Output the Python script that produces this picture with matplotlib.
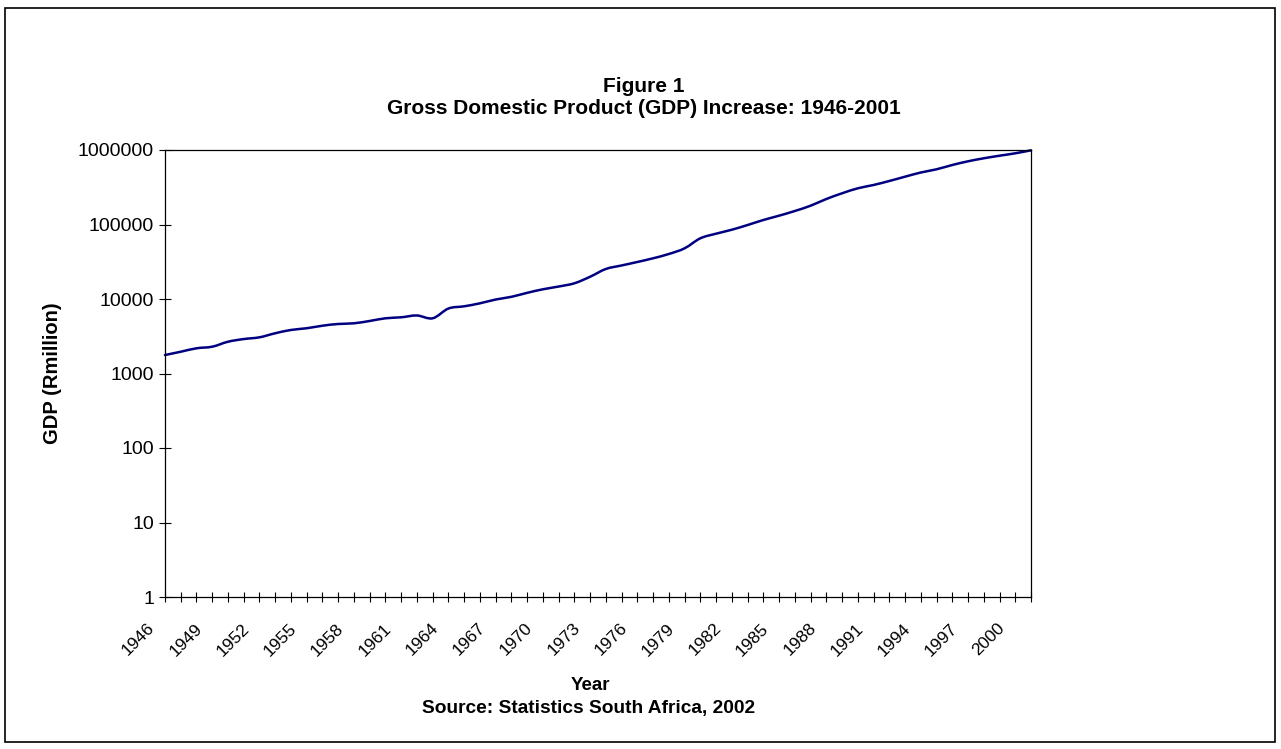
import matplotlib.pyplot as plt
import matplotlib.patches as mpatches
import matplotlib.transforms as mtransforms
from matplotlib.path import Path
import numpy as np

plt.rcParams['font.family'] = ['Liberation Sans', 'DejaVu Sans']

# GDP at current prices, R million
years = list(range(1946, 2002))
gdp = [
    1770, 1960, 2180, 2290, 2670, 2900, 3060, 3470, 3840, 4050,
    4380, 4620, 4720, 5070, 5510, 5680, 6010, 5510, 7450, 7980,
    8750, 9840, 10700, 12100, 13500, 14700, 16250, 19900, 25300, 28200,
    31400, 35200, 40200, 47900, 65300, 75300, 85100, 98400, 114900, 131300,
    151800, 178700, 219900, 262300, 306100, 339000, 383700, 438300, 498800, 550800,
    629000, 705000, 774000, 838000, 903000, 990000,
]
y_ticks = [1, 10, 100, 1000, 10000, 100000, 1000000]
label_years = years[::3]


def smooth_path(xs, ys):
    # Bezier segments through the points (Catmull-Rom tangents, in log space)
    x = np.asarray(xs, float)
    ly = np.log10(np.asarray(ys, float))
    verts = [(x[0], ys[0])]
    codes = [Path.MOVETO]
    n = len(x)
    for i in range(n - 1):
        x0, y0 = x[max(i - 1, 0)], ly[max(i - 1, 0)]
        x1, y1 = x[i], ly[i]
        x2, y2 = x[i + 1], ly[i + 1]
        x3, y3 = x[min(i + 2, n - 1)], ly[min(i + 2, n - 1)]
        c1 = (x1 + (x2 - x0) / 6, y1 + (y2 - y0) / 6)
        c2 = (x2 - (x3 - x1) / 6, y2 - (y3 - y1) / 6)
        verts += [(c1[0], 10 ** c1[1]), (c2[0], 10 ** c2[1]), (x2, 10 ** y2)]
        codes += [Path.CURVE4] * 3
    return Path(verts, codes)


fig = plt.figure(figsize=(12.81, 7.49), dpi=100)
ax = fig.add_axes([165 / 1281, 1 - 597 / 749, 866 / 1281, 447 / 749])

ax.set_yscale('log')
ax.set_ylim(1, 1000000)
ax.set_xlim(years[0], years[-1])

line = mpatches.PathPatch(smooth_path(years, gdp), facecolor='none',
                          edgecolor='#000080', linewidth=1.8, capstyle='round',
                          joinstyle='round', clip_on=False)
ax.add_patch(line)

ax.set_yticks(y_ticks)
ax.set_yticklabels([str(v) for v in y_ticks])
ax.yaxis.set_minor_locator(plt.NullLocator())

ax.set_xticks(years, minor=True)
ax.set_xticks(label_years)
ax.set_xticklabels([str(y) for y in label_years], rotation=45,
                   ha='right', rotation_mode='anchor')

ax.tick_params(axis='both', which='both', direction='inout', color='black',
               width=0.8)
ax.tick_params(axis='x', which='both', length=7.5, pad=6, labelsize=12.5)
ax.tick_params(axis='y', length=8, pad=4, labelsize=14)

shift = mtransforms.ScaledTranslation(-18 / 100, -10 / 100, fig.dpi_scale_trans)
for lab in ax.get_xticklabels():
    lab.set_transform(lab.get_transform() + shift)

for s in ax.spines.values():
    s.set_linewidth(0.9)
    s.set_color('black')

fig.text(52 / 1281, 1 - 373 / 749, 'GDP (Rmillion)', rotation=90,
         ha='center', va='center', fontsize=14.5, fontweight='bold')

fig.text(644 / 1281, 1 - 86 / 749, 'Figure 1', ha='center', va='center',
         fontsize=15, fontweight='bold')
fig.text(644 / 1281, 1 - 109 / 749, 'Gross Domestic Product (GDP) Increase: 1946-2001',
         ha='center', va='center', fontsize=15, fontweight='bold')
fig.text(590 / 1281, 1 - 686 / 749, 'Year', ha='center', va='center',
         fontsize=13.5, fontweight='bold')
fig.text(589 / 1281, 1 - 708 / 749, 'Source: Statistics South Africa, 2002',
         ha='center', va='center', fontsize=13.8, fontweight='bold')

# chart area border
fig.patches.append(mpatches.Rectangle((5 / 1281, 1 - 742 / 749), 1270 / 1281, 734 / 749,
                                      transform=fig.transFigure, fill=False,
                                      edgecolor='black', linewidth=1.2))

fig.savefig('out.png', dpi=100)
